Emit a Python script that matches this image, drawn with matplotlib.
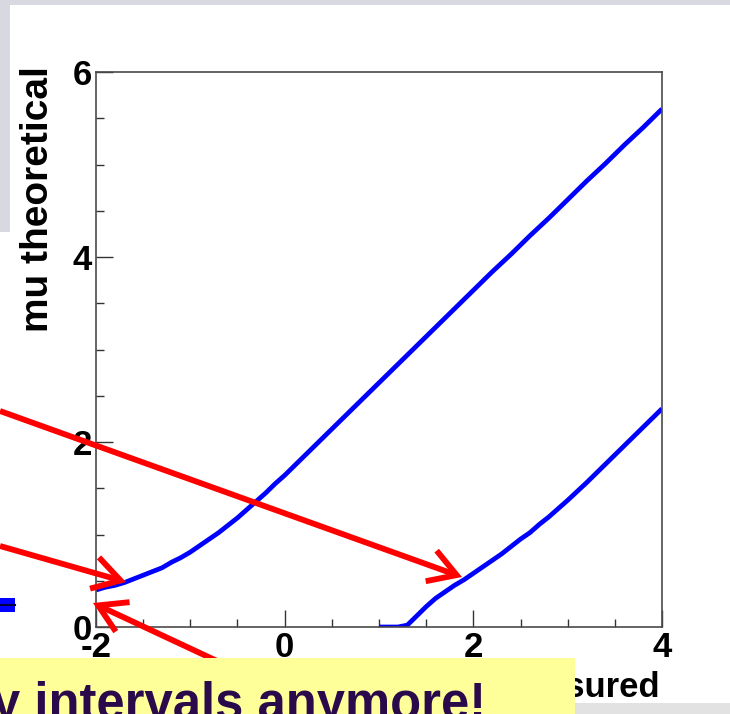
import matplotlib
matplotlib.use("Agg")
import matplotlib.pyplot as plt
from matplotlib.patches import Rectangle, FancyArrowPatch, ArrowStyle
from matplotlib.ticker import MultipleLocator

plt.rcParams['font.family'] = ['Liberation Sans', 'DejaVu Sans']

# Confidence belt (90% CL) for a Gaussian measurement with a physical boundary mu >= 0
mu_measured_upper = [-2.0, -1.9, -1.8, -1.7, -1.6, -1.5, -1.4, -1.3, -1.2, -1.1,
                     -1.0, -0.9, -0.8, -0.7, -0.6, -0.5, -0.4, -0.3, -0.2, -0.1,
                     0.0, 0.2, 0.4, 0.6, 0.8, 1.0, 1.2, 1.4, 1.6, 1.8,
                     2.0, 2.2, 2.4, 2.6, 2.8, 3.0, 3.2, 3.4, 3.6, 3.8, 4.0]
mu_upper = [0.40, 0.43, 0.45, 0.48, 0.52, 0.56, 0.60, 0.64, 0.70, 0.75,
            0.81, 0.88, 0.95, 1.02, 1.10, 1.18, 1.27, 1.36, 1.45, 1.55,
            1.64, 1.84, 2.04, 2.24, 2.44, 2.64, 2.84, 3.04, 3.24, 3.44,
            3.64, 3.84, 4.03, 4.23, 4.42, 4.62, 4.82, 5.01, 5.21, 5.40, 5.60]

mu_measured_lower = [1.0, 1.1, 1.2, 1.3, 1.4, 1.5, 1.6, 1.7, 1.8, 1.9,
                     2.0, 2.1, 2.2, 2.3, 2.4, 2.5, 2.6, 2.7, 2.8, 2.9,
                     3.0, 3.2, 3.4, 3.6, 3.8, 4.0]
mu_lower = [0.00, 0.00, 0.00, 0.02, 0.12, 0.22, 0.31, 0.38, 0.45, 0.51,
            0.58, 0.65, 0.72, 0.79, 0.87, 0.95, 1.02, 1.11, 1.19, 1.28,
            1.37, 1.56, 1.76, 1.96, 2.16, 2.36]

x_ticks = [-2, 0, 2, 4]
y_ticks = [0, 2, 4, 6]

W, H = 730, 714
fig = plt.figure(figsize=(W / 100, H / 100), dpi=100)
fig.patch.set_facecolor('white')

# main plot frame (pixel box 96..662 x 72..627)
ax = fig.add_axes([96 / W, 1 - 627 / H, (662 - 96) / W, (627 - 72) / H])
ax.plot(mu_measured_upper, mu_upper, color='#0000ff', lw=3.4, solid_capstyle='butt')
ax.plot(mu_measured_lower, mu_lower, color='#0000ff', lw=3.4, solid_capstyle='butt')
ax.set_xlim(-2, 4)
ax.set_ylim(0, 6)
ax.set_xticks(x_ticks)
ax.set_yticks(y_ticks)
ax.set_xticklabels([str(v) for v in x_ticks])
ax.set_yticklabels([str(v) for v in y_ticks])
ax.xaxis.set_minor_locator(MultipleLocator(0.5))
ax.yaxis.set_minor_locator(MultipleLocator(0.5))
ax.tick_params(which='both', direction='in', top=False, right=False,
               color='#333333', width=1.0)
ax.tick_params(which='major', length=12)
ax.tick_params(which='minor', length=6)
ax.tick_params(axis='x', which='major', labelsize=25, pad=3)
ax.tick_params(axis='y', which='major', labelsize=25, pad=3)
for lab in ax.get_xticklabels() + ax.get_yticklabels():
    lab.set_fontweight('bold')
for sp in ax.spines.values():
    sp.set_color('#4a4a4a')
    sp.set_linewidth(1.2)

# y axis title
fig.text(38 / W, 1 - 66 / H, 'mu theoretical', rotation=90, ha='center', va='top',
         fontsize=28, fontweight='bold', color='black')

# slide overlay in pixel coordinates
ov = fig.add_axes([0, 0, 1, 1])
ov.set_xlim(0, W)
ov.set_ylim(H, 0)
ov.axis('off')
ov.patch.set_alpha(0)

# x axis title, partly covered by the callout box
ov.text(660, 697, 'mu measured', ha='right', va='baseline',
        fontsize=25, fontweight='bold', color='black', zorder=3)

ov.add_patch(Rectangle((0, 0), W, 5, facecolor='#d8d8e0', edgecolor='none'))
ov.add_patch(Rectangle((0, 0), 10, 232, facecolor='#d8d8e0', edgecolor='none'))
ov.add_patch(Rectangle((575, 703), W - 575, 11, facecolor='#e2e2e2', edgecolor='none'))

# blue legend stub at the left border
ov.add_patch(Rectangle((0, 598), 15, 14, facecolor='#0000ff', edgecolor='none'))
ov.plot([0, 15], [605, 605], color='#000044', lw=1.5)

head = ArrowStyle('->', head_length=0.75, head_width=0.45)
arrows = [((0, 411), (462, 577)),
          ((0, 546), (126, 582)),
          ((232, 668), (93, 603))]
for (x0, y0), (x1, y1) in arrows:
    ov.add_patch(FancyArrowPatch((x0, y0), (x1, y1), arrowstyle=head,
                                 mutation_scale=26, color='#ff0000', lw=4.2,
                                 shrinkA=0, shrinkB=0, capstyle='butt',
                                 joinstyle='miter', zorder=4))

# yellow callout
ov.add_patch(Rectangle((0, 658), 575, H - 658, facecolor='#ffff99',
                       edgecolor='none', zorder=5))
ov.text(486, 719, 'No empty intervals anymore!', ha='right', va='baseline',
        fontsize=36.5, fontweight='bold', color='#2a0a4a', zorder=6)

fig.savefig('out.png', dpi=100)
